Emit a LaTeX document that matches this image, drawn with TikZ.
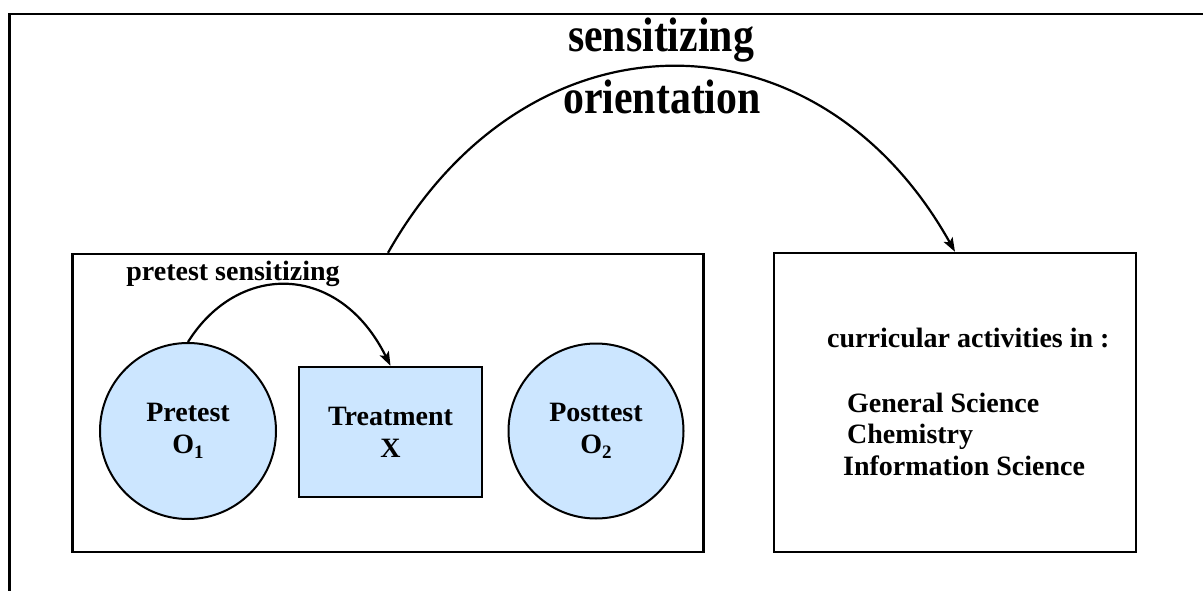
\documentclass[tikz,border=0pt]{standalone}
\usepackage{fontspec}
\setmainfont{Liberation Serif}
\usetikzlibrary{arrows.meta}
\definecolor{shapefill}{RGB}{204,230,255}
\newcommand{\subidx}[1]{\raisebox{-5pt}{\fontsize{19}{19}\selectfont #1}}
\tikzset{
  frame/.style={draw=black, line width=2.6pt},
  box/.style={draw=black, line width=2.4pt, rectangle, inner sep=0pt},
  bubble/.style={draw=black, line width=2pt, circle, fill=shapefill, inner sep=0pt,
     align=center, font=\fontsize{28}{32}\selectfont\bfseries},
  treatbox/.style={draw=black, line width=2.4pt, rectangle, fill=shapefill, inner sep=0pt,
     align=center, font=\fontsize{28}{32}\selectfont\bfseries},
  lbl/.style={inner sep=0pt, font=\fontsize{28}{32}\selectfont\bfseries},
  biglbl/.style={inner sep=0pt, font=\fontsize{44}{48}\selectfont\bfseries},
  conn/.style={line width=2.2pt, -{Stealth[length=14pt,width=10pt,inset=3pt]}},
}
\begin{document}
\begin{tikzpicture}[x=1pt,y=-1pt]
\useasboundingbox (0,0) rectangle (1203,591);
% outer frame (top and left sides visible)
\draw[frame] (9.5,591) -- (9.5,14) -- (1203,14);
% left box
\node[box, minimum width=631pt, minimum height=298pt] (leftbox) at (388,403) {};
% right box
\node[box, minimum width=362pt, minimum height=299pt] (rightbox) at (955,402.5) {};
% inner shapes
\node[bubble, minimum size=176pt] (pre) at (188,431) {Pretest\\O\subidx{1}};
\node[treatbox, minimum width=183pt, minimum height=130pt] (treat) at (390.5,432) {Treatment\\X};
\node[bubble, minimum size=175pt] (post) at (596,431) {Posttest\\O\subidx{2}};
% labels
\node[lbl, anchor=base] (ptlabel) at (233,280) {pretest sensitizing};
\node[biglbl, anchor=base] (sens) at (661,52) {\scalebox{0.95}[1.1]{sensitizing}};
\node[biglbl, anchor=base] (orient) at (662,114) {\scalebox{0.95}[1.1]{orientation}};
\node[lbl, anchor=base west] (curr) at (827,347) {curricular activities in :};
\node[lbl, anchor=base west] (gs) at (847,412) {General Science};
\node[lbl, anchor=base west] (chem) at (847,443.5) {Chemistry};
\node[lbl, anchor=base west] (info) at (843,475) {Information Science};
% connectors
\draw[conn] (pre.north) .. controls (238,262) and (339,262) .. (treat.north);
\draw[conn] (leftbox.north) .. controls (528,5) and (817,5) .. (rightbox.north);
\end{tikzpicture}
\end{document}
